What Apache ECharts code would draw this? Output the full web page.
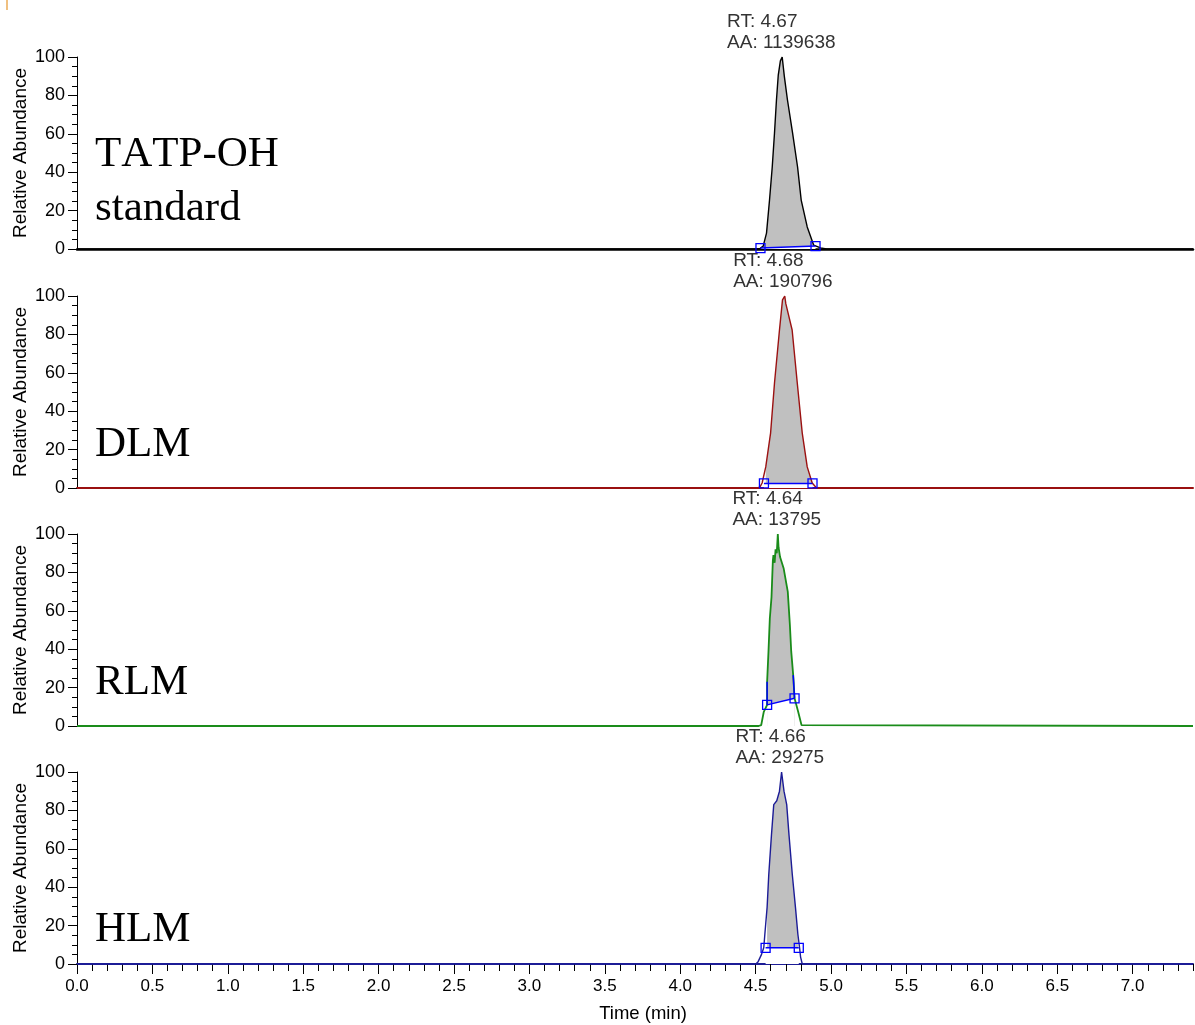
<!DOCTYPE html>
<html>
<head>
<meta charset="utf-8">
<title>TATP-OH chromatograms</title>
<script src="https://cdn.jsdelivr.net/npm/echarts@6/dist/echarts.min.js"></script>
<style>
  html, body { margin: 0; padding: 0; background: #fff; }
  #chart { width: 1195px; height: 1025px; }
</style>
</head>
<body>
<div id="chart"></div>
<script>
// retention time (min) / relative abundance (%)
const tatpTime  = [0, 4.50, 4.53, 4.55, 4.572, 4.592, 4.610, 4.625, 4.638, 4.650, 4.664, 4.676, 4.690, 4.711, 4.745, 4.778, 4.802, 4.842, 4.885, 4.93, 4.97, 7.4]
const tatpAbund = [0, 0, 0.3, 1.5, 8.3, 25.5, 42.7, 60.4, 77.6, 90.6, 98, 100, 90, 77.6, 60.4, 42.7, 25.5, 11.5, 2, 0.6, 0, 0]

const dlmTime  = [0, 4.51, 4.528, 4.543, 4.567, 4.599, 4.625, 4.658, 4.678, 4.693, 4.700, 4.742, 4.776, 4.809, 4.842, 4.875, 4.904, 7.4]
const dlmAbund = [0, 0, 0.5, 2.6, 11, 28.6, 54.7, 82.3, 98, 100, 96, 82.3, 54.7, 28.6, 11, 2.6, 0, 0]

const rlmTime  = [0, 4.52, 4.537, 4.554, 4.576, 4.576, 4.585, 4.594, 4.605, 4.614, 4.618, 4.626, 4.632, 4.640, 4.647, 4.652, 4.662, 4.686, 4.713, 4.727, 4.736, 4.749, 4.758, 4.782, 4.804, 7.4]
const rlmAbund = [0, 0, 0.5, 7.4, 11, 23, 38.7, 56, 67, 86, 89, 85, 92, 90, 100, 93, 88, 82, 70, 52.6, 38.7, 26.5, 14.4, 7.4, 0.5, 0]

const hlmTime  = [0, 4.50, 4.515, 4.539, 4.554, 4.561, 4.576, 4.587, 4.605, 4.620, 4.640, 4.658, 4.672, 4.688, 4.706, 4.721, 4.743, 4.764, 4.780, 4.791, 4.798, 4.809, 7.4]
const hlmAbund = [0, 0, 1, 5, 8.6, 15.5, 29.5, 46.6, 67.4, 83, 85, 90, 100, 90, 83, 67.4, 46.6, 29.5, 15.5, 8.6, 3.6, 0, 0]

// integration start / end points [time, abundance]
const tatpMarks = [[4.532, 0.5], [4.897, 1.5]]
const dlmMarks  = [[4.555, 2.4], [4.877, 2.4]]
const rlmMarks  = [[4.576, 11], [4.758, 14.4]]
const hlmMarks  = [[4.566, 8.4], [4.786, 8.4]]

// RLM peak edges drawn by the integrator
const rlmEdges = [[[4.576, 11], [4.576, 23]], [[4.758, 14.4], [4.749, 26.5]]]

const peakRT   = ['4.67', '4.68', '4.64', '4.66']
const peakArea = ['1139638', '190796', '13795', '29275']
const sampleNames = [['TATP-OH', 'standard'], ['DLM'], ['RLM'], ['HLM']]

const chart = echarts.init(document.getElementById('chart'))

const traces = [
  { time: tatpTime, abund: tatpAbund, marks: tatpMarks, color: '#000000', axis: true, axisWidth: 2.5 },
  { time: dlmTime, abund: dlmAbund, marks: dlmMarks, color: '#9b1111', axis: true, axisWidth: 2 },
  { time: rlmTime, abund: rlmAbund, marks: rlmMarks, color: '#1a8c1a', axis: false, axisWidth: 0 },
  { time: hlmTime, abund: hlmAbund, marks: hlmMarks, color: '#1c1c96', axis: true, axisWidth: 2 }
]
const gridTops = [57, 296, 534, 772]
const plotHeight = 192

const font = 'Liberation Sans'

const grid = gridTops.map(top => ({
  left: 77, right: 2, top: top, height: plotHeight,
  containLabel: false, outerBoundsMode: 'none'
}))

const xAxis = traces.map((tr, i) => {
  const last = i === traces.length - 1
  return {
    type: 'value',
    gridIndex: i,
    min: 0,
    max: 7.4,
    interval: 0.5,
    position: 'bottom',
    axisLine: { show: tr.axis, onZero: false, lineStyle: { color: tr.color, width: tr.axisWidth } },
    axisTick: { show: last, length: 10, lineStyle: { color: '#000' } },
    axisLabel: {
      show: last, showMaxLabel: false, margin: 14,
      color: '#000', fontFamily: font, fontSize: 17,
      formatter: v => v.toFixed(1)
    },
    splitLine: { show: false },
    name: last ? 'Time (min)' : '',
    nameLocation: 'middle',
    nameGap: 40,
    nameMoveOverlap: false,
    nameTextStyle: { color: '#000', fontFamily: font, fontSize: 18.5, padding: [0, 0, 0, 16] }
  }
})
// minor ticks every 0.1 min on the bottom axis
xAxis.push({
  type: 'value', gridIndex: 3, min: 0, max: 7.4, interval: 0.1, position: 'bottom',
  axisLine: { show: false },
  axisTick: { length: 7, lineStyle: { color: '#000' } },
  axisLabel: { show: false },
  splitLine: { show: false }
})

const yAxis = traces.map((tr, i) => ({
  type: 'value',
  gridIndex: i,
  min: 0,
  max: 100,
  interval: 20,
  axisLine: { show: true, lineStyle: { color: '#000', width: 1 } },
  axisTick: { length: 9, lineStyle: { color: '#000' } },
  minorTick: { show: true, splitNumber: 4, length: 5, lineStyle: { color: '#000' } },
  axisLabel: { margin: 12, color: '#000', fontFamily: font, fontSize: 18 },
  splitLine: { show: false },
  name: 'Relative Abundance',
  nameLocation: 'middle',
  nameGap: 47,
  nameMoveOverlap: false,
  nameTextStyle: { color: '#000', fontFamily: font, fontSize: 19 }
}))

const series = []
traces.forEach((tr, i) => {
  const pts = tr.time.map((t, k) => [t, tr.abund[k]])
  const t0 = tr.marks[0][0], t1 = tr.marks[1][0]
  const peak = pts.filter(p => p[0] >= t0 && p[0] <= t1)

  // integrated area
  series.push({
    type: 'line', xAxisIndex: i, yAxisIndex: i, data: peak,
    symbol: 'none', silent: true, clip: false,
    lineStyle: { width: 0 },
    areaStyle: { color: '#c0c0c0', opacity: 1 }
  })
  // blank out what lies under the integration baseline
  series.push({
    type: 'line', xAxisIndex: i, yAxisIndex: i, data: tr.marks,
    symbol: 'none', silent: true, clip: false,
    lineStyle: { width: 0 },
    areaStyle: { color: '#ffffff', opacity: 1 }
  })
  // chromatogram trace
  series.push({
    type: 'line', xAxisIndex: i, yAxisIndex: i, data: pts,
    symbol: 'none', clip: false,
    lineStyle: { color: tr.color, width: i === 2 ? 1.8 : 1.4 },
    markPoint: {
      symbol: 'circle', symbolSize: 0,
      data: [{ coord: [parseFloat(peakRT[i]), 100] }],
      label: {
        show: true, position: 'top', distance: 4,
        formatter: '{a|RT: ' + peakRT[i] + '}\n{a|AA: ' + peakArea[i] + '}',
        rich: { a: { align: 'left', color: '#333', fontFamily: font, fontSize: 19, lineHeight: 21 } }
      }
    }
  })
  // integration baseline with its end markers
  series.push({
    type: 'line', xAxisIndex: i, yAxisIndex: i, data: tr.marks,
    symbol: 'rect', symbolSize: 9, showSymbol: true, clip: false,
    lineStyle: { color: '#0000ff', width: 1.5 },
    itemStyle: { color: 'rgba(0,0,0,0)', borderColor: '#0000ff', borderWidth: 1.3 }
  })
})
rlmEdges.forEach(edge => {
  series.push({
    type: 'line', xAxisIndex: 2, yAxisIndex: 2, data: edge,
    symbol: 'none', clip: false,
    lineStyle: { color: '#0000ff', width: 1.5 }
  })
})

// sample names, one token per letter so no kerning tightens them
const nameY = [[155, 209], [445], [683], [930]]
const graphic = [{ type: 'rect', shape: { x: 6, y: 0, width: 2, height: 10 }, style: { fill: '#f0c080' } }]
sampleNames.forEach((lines, i) => {
  lines.forEach((txt, k) => {
    graphic.push({
      type: 'text', x: 95, y: nameY[i][k],
      style: {
        text: txt.split('').map(c => '{s|' + c + '}').join(''),
        rich: { s: { fontFamily: 'Liberation Serif', fontSize: 43, fill: '#000' } },
        verticalAlign: 'middle'
      }
    })
  })
})

chart.setOption({
  animation: false,
  backgroundColor: '#fff',
  grid: grid,
  xAxis: xAxis,
  yAxis: yAxis,
  series: series,
  graphic: graphic
})

window.onresize = () => chart.resize()
</script>
</body>
</html>
